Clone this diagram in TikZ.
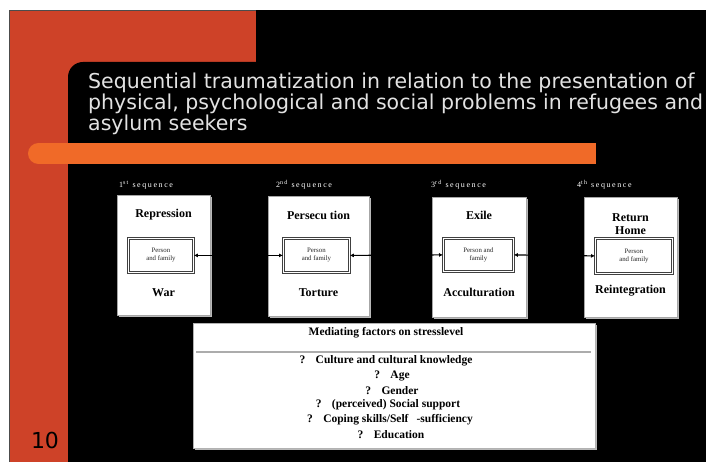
\documentclass[tikz,border=0pt]{standalone}
\usepackage{fontspec}
\setmainfont{Liberation Serif}
\newfontfamily\titlefont{DejaVu Sans}
\newfontfamily\seqfont[LetterSpace=20]{Liberation Serif}
\usetikzlibrary{arrows.meta}
\definecolor{slidered}{RGB}{206,66,40}
\definecolor{slideorange}{RGB}{240,106,40}
\definecolor{titlegray}{RGB}{226,226,226}
\tikzset{
  seqbox/.style={draw=gray!70, line width=0.6pt, fill=white, anchor=north west, inner sep=0pt},
  innerbox/.style={draw=black!75, double=white, double distance=0.8pt, line width=0.8pt, fill=white, anchor=north west, inner sep=0pt},
  boxlabel/.style={font=\bfseries\fontsize{12}{14}\selectfont, text=black, inner sep=0pt, align=center},
  innerlabel/.style={font=\fontsize{6.8}{8}\selectfont, text=black!85, inner sep=0pt, align=center},
  seqlabel/.style={font=\seqfont\fontsize{8}{9}\selectfont, text=white, inner sep=0pt, anchor=west},
  titleline/.style={font=\titlefont\fontsize{20.5}{22}\selectfont, text=titlegray, inner sep=0pt, anchor=base west},
  meditem/.style={font=\bfseries\fontsize{11.5}{13}\selectfont, text=black, inner sep=0pt},
  link/.style={line width=1.1pt, black, {Latex[length=4pt,width=4pt]}-{Latex[length=4pt,width=4pt]}},
  shadowbox/.style={fill=gray!55}
}
\begin{document}
\begin{tikzpicture}[x=1pt,y=-1pt]
\useasboundingbox (0,0) rectangle (706,462);
\clip (0,0) rectangle (706,462);
\fill[white] (0,0) rectangle (706,462);
% slide background
\fill[slidered] (9,10) rectangle (706,462);
\draw[black!70, line width=0.8pt] (9,462) -- (9,10) -- (706,10);
\fill[black] (256,10) rectangle (720,70);
\fill[black, rounded corners=15pt] (68,62) rectangle (760,520);
% orange bar
\fill[slideorange] (38.5,143) rectangle (596,164);
\fill[slideorange] (38.5,153.5) circle (10.5);
% title
\node[titleline] (t1) at (88,89) {Sequential traumatization in relation to the presentation of};
\node[titleline] (t2) at (88,110) {physical, psychological and social problems in refugees and};
\node[titleline] (t3) at (88,131) {asylum seekers};
% slide number
\node[font=\titlefont\fontsize{22}{24}\selectfont, text=black, inner sep=0pt] (num) at (45,440) {10};
% sequence labels
\node[seqlabel] (s1) at (119,185) {1\textsuperscript{st} sequence};
\node[seqlabel] (s2) at (276,185) {2\textsuperscript{nd} sequence};
\node[seqlabel] (s3) at (431,185) {3\textsuperscript{rd} sequence};
\node[seqlabel] (s4) at (577,185) {4\textsuperscript{th} sequence};
% shadows
\fill[shadowbox] (119,197) rectangle (212,317);
\fill[shadowbox] (270,198) rectangle (371,318);
\fill[shadowbox] (434,199) rectangle (528,319);
\fill[shadowbox] (586,199) rectangle (679,319);
\fill[shadowbox] (195,325) rectangle (597,450);
% sequence boxes
\node[seqbox, minimum width=93pt, minimum height=120pt] (b1) at (117,195) {};
\node[seqbox, minimum width=101pt, minimum height=120pt] (b2) at (268,196) {};
\node[seqbox, minimum width=94pt, minimum height=120pt] (b3) at (432,197) {};
\node[seqbox, minimum width=93pt, minimum height=120pt] (b4) at (584,197) {};
% inner boxes
\node[innerbox, minimum width=65pt, minimum height=34pt] (i1) at (128,238) {};
\node[innerbox, minimum width=66pt, minimum height=34pt] (i2) at (283,238) {};
\node[innerbox, minimum width=70pt, minimum height=33pt] (i3) at (443,238) {};
\node[innerbox, minimum width=77pt, minimum height=35pt] (i4) at (595,238) {};
\node[innerlabel] (p1) at (i1.center) {Person\\and family};
\node[innerlabel] (p2) at (i2.center) {Person\\and family};
\node[innerlabel] (p3) at (i3.center) {Person and\\family};
\node[innerlabel] (p4) at (i4.center) {Person\\and family};
% box labels
\node[boxlabel] (r1) at (163.5,215) {Repression};
\node[boxlabel] (w1) at (163.5,293) {War};
\node[boxlabel] (r2) at (318.5,215) {Persecu tion};
\node[boxlabel] (w2) at (318.5,293) {Torture};
\node[boxlabel] (r3) at (479,215) {Exile};
\node[boxlabel] (w3) at (479,292) {Acculturation};
\node[boxlabel, font=\bfseries\fontsize{12}{13.5}\selectfont] (r4) at (630.5,224) {Return\\Home};
\node[boxlabel] (w4) at (630.5,291) {Reintegration};
% links
\draw[link] (i1.east) -- (i2.west);
\draw[link] (i2.east) -- (i3.west);
\draw[link] (i3.east) -- (i4.west);
% mediating box
\node[seqbox, draw=gray!60, minimum width=402pt, minimum height=125pt] (m) at (193,323) {};
\node[meditem] (mt) at (386,333) {Mediating factors on stresslevel};
\coordinate (ml) at (196,352);
\coordinate (mr) at (591,352);
\draw[gray!65, line width=2pt] (ml) -- (mr);
\node[meditem] (f1) at (386,361) {?\hspace{0.9em}Culture and cultural knowledge};
\node[meditem] (f2) at (392,376) {?\hspace{0.9em}Age};
\node[meditem] (f3) at (392,390.5) {?\hspace{0.9em}Gender};
\node[meditem] (f4) at (388,405) {?\hspace{0.9em}(perceived) Social support};
\node[meditem] (f5) at (390,420) {?\hspace{0.9em}Coping skills/Self\hspace{0.7em}-sufficiency};
\node[meditem] (f6) at (391,434.5) {?\hspace{0.9em}Education};
\end{tikzpicture}
\end{document}
